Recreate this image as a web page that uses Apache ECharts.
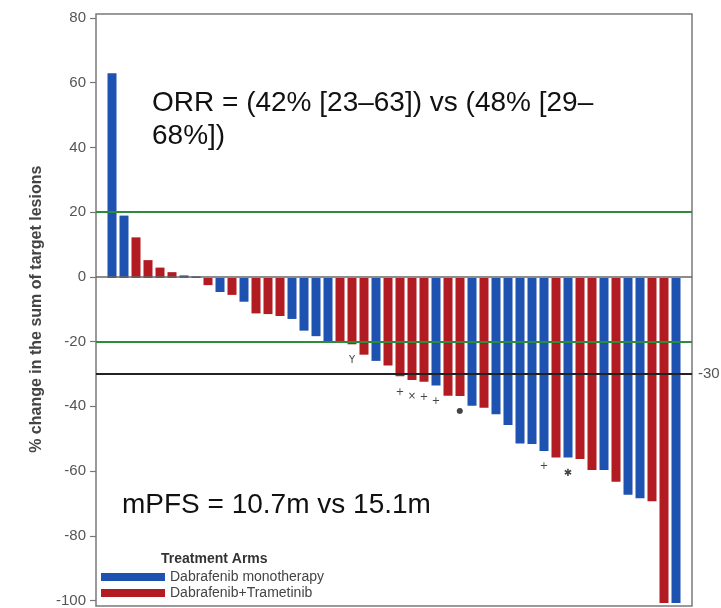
<!DOCTYPE html>
<html><head><meta charset="utf-8">
<script src="https://cdn.jsdelivr.net/npm/echarts@6/dist/echarts.min.js"></script>
<style>html,body{margin:0;padding:0;background:#fff}#c{width:721px;height:608px}</style>
</head><body><div id="c"></div>
<script>
// ---- data ----
const patients = Array.from({length: 48}, (_, i) => 'P' + (i + 1));
const values = [63, 19.2, 12.5, 5.5, 3.2, 1.8, 0.8, 0.5, -2.2, -4.3, -5.2, -7.3, -10.9, -11.1, -11.7, -12.6,
  -16.2, -17.9, -19.4, -19.6, -20.4, -23.6, -25.5, -26.9, -30.2, -31.4, -31.9, -33.1, -36.2, -36.3, -39.3, -39.9,
  -41.9, -45.2, -50.9, -51.1, -53.2, -55.2, -55.2, -55.7, -59.1, -59.1, -62.7, -66.7, -67.8, -68.7, -100, -100];
const arms = ['M','M','C','C','C','C','M','M','C','M','C','M','C','C','C','M',
  'M','M','M','C','C','C','M','C','C','C','C','M','C','C','M','C',
  'M','M','M','M','M','C','M','C','C','M','C','M','M','C','C','M'];
const armNames = {M: 'Dabrafenib monotherapy', C: 'Dabrafenib+Trametinib'};
const armColors = {M: '#1d52b0', C: '#b31b22'};
const markerIdx = [20, 24, 25, 26, 27, 29, 36, 38];
const markerSym = ['Y', '+', '×', '+', '+', '●', '+', '✱'];
const yMin = -100, yMax = 80, yInterval = 20;
const greenLines = [20, -20];
const thresholdLine = -30;
const orrText = 'ORR = (42% [23–63]) vs (48% [29–\n68%])';
const pfsText = 'mPFS = 10.7m vs 15.1m';
const legendTitle = 'Treatment Arms';
const yName = '% change in the sum of target lesions';

// ---- build ----
const FONT = 'Liberation Sans, Arial, sans-serif';
function seriesData(arm) {
  return values.map((v, i) => {
    if (arms[i] !== arm) return '-';
    const k = markerIdx.indexOf(i);
    if (k < 0) return v;
    const s = markerSym[k];
    return {value: v, label: {show: true, position: 'bottom', distance: 11,
      formatter: s, fontSize: s === '●' ? 8 : 10, color: '#444', fontFamily: 'DejaVu Sans'}};
  });
}
const lineItem = (y, color, width, label) => ([
  {coord: [0, y], lineStyle: {color: color, width: width, type: 'solid'},
    label: label ? {show: true, position: 'end', formatter: label, color: '#555', fontSize: 15, fontFamily: FONT, distance: 6} : {show: false}},
  {coord: [1, y]}
]);

const chart = echarts.init(document.getElementById('c'), null, {renderer: 'canvas'});
chart.setOption({
  animation: false,
  backgroundColor: '#fff',
  textStyle: {fontFamily: FONT},
  grid: [
    {left: 106, right: 39, top: 18, bottom: 5},                 // bars
    {left: 96, right: 29, top: 18, bottom: 5},                  // axis + reference lines
    {left: 96, right: 29, top: 14, bottom: 2, show: true, borderColor: '#7a7a7a', borderWidth: 1.5, backgroundColor: 'transparent'} // frame
  ],
  xAxis: [
    {gridIndex: 0, type: 'category', data: patients, show: false},
    {gridIndex: 1, type: 'value', min: 0, max: 1, show: false},
    {gridIndex: 2, type: 'value', min: 0, max: 1, show: false}
  ],
  yAxis: [
    {gridIndex: 0, type: 'value', min: yMin, max: yMax, interval: yInterval, show: false},
    {gridIndex: 1, type: 'value', min: yMin, max: yMax, interval: yInterval,
      name: yName, nameLocation: 'middle', nameRotate: 90, nameGap: 50,
      nameTextStyle: {fontSize: 16, fontWeight: 'bold', color: '#444', fontFamily: FONT},
      axisLine: {show: false},
      axisTick: {show: true, length: 6, lineStyle: {color: '#777', width: 1.2}},
      axisLabel: {fontSize: 15, color: '#555', margin: 10, fontFamily: FONT},
      splitLine: {show: false}},
    {gridIndex: 2, type: 'value', min: 0, max: 1, show: false}
  ],
  legend: {
    orient: 'vertical', left: 101, top: 570, padding: 0, itemWidth: 64, itemHeight: 8, itemGap: 2,
    icon: 'rect', selectedMode: false,
    textStyle: {fontSize: 14, color: '#444', fontFamily: FONT},
    data: [armNames.M, armNames.C]
  },
  title: {text: legendTitle, left: 161, top: 552, padding: 0,
    textStyle: {fontSize: 14, fontWeight: 'bold', color: '#333', fontFamily: FONT}},
  graphic: [
    {type: 'text', left: 152, top: 87, style: {text: orrText, font: '28px Liberation Sans, Arial, sans-serif', fill: '#111', lineHeight: 33}},
    {type: 'text', left: 122, top: 489, style: {text: pfsText, font: '28px Liberation Sans, Arial, sans-serif', fill: '#111', lineHeight: 33}}
  ],
  series: [
    {name: 'ref', type: 'line', xAxisIndex: 1, yAxisIndex: 1, data: [], silent: true,
      markLine: {silent: true, symbol: ['none', 'none'], animation: false,
        data: [
          lineItem(0, '#666', 1.5),
          lineItem(greenLines[0], '#2e8b3a', 2),
          lineItem(greenLines[1], '#2e8b3a', 2),
          lineItem(thresholdLine, '#222', 2, String(thresholdLine))
        ]}},
    {name: armNames.M, type: 'bar', xAxisIndex: 0, yAxisIndex: 0, data: seriesData('M'),
      barWidth: 9, barGap: '-100%', itemStyle: {color: armColors.M}, z: 1},
    {name: armNames.C, type: 'bar', xAxisIndex: 0, yAxisIndex: 0, data: seriesData('C'),
      barWidth: 9, barGap: '-100%', itemStyle: {color: armColors.C}, z: 1}
  ]
});
</script>
</body></html>
